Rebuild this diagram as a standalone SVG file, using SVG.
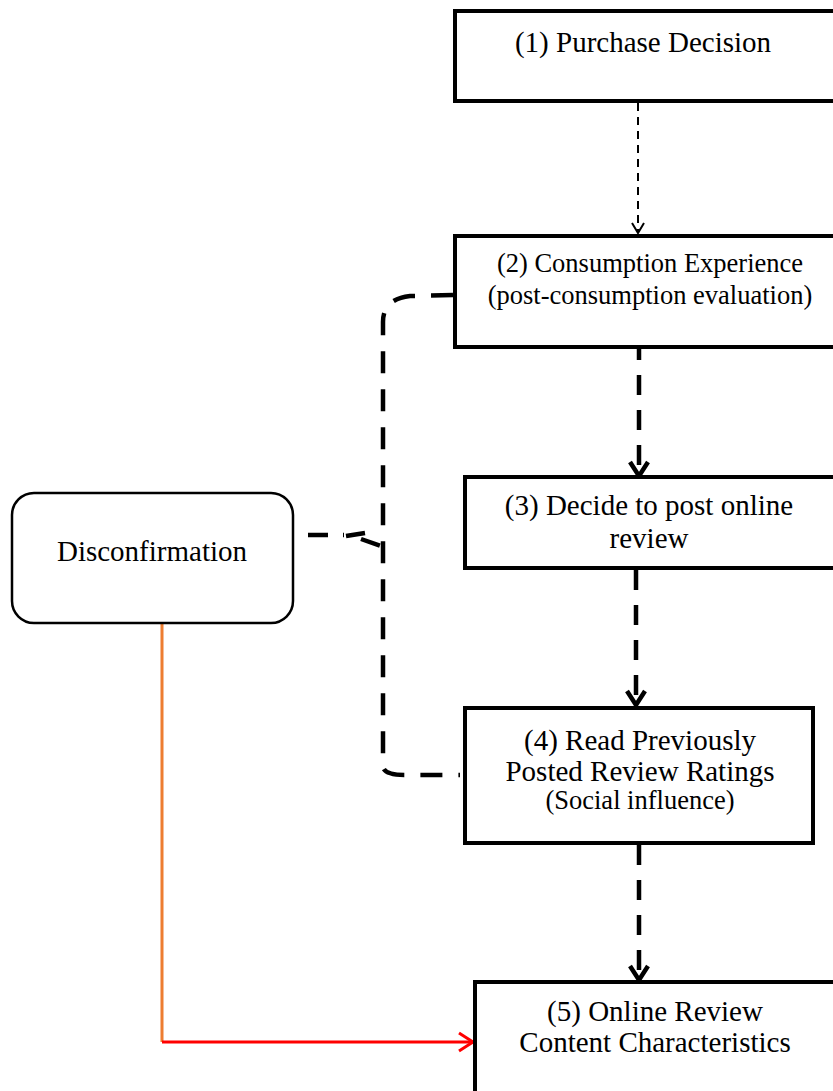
<svg xmlns="http://www.w3.org/2000/svg" width="833" height="1091" viewBox="0 0 833 1091">
  <style>
    .box { fill: #fff; stroke: #000; stroke-width: 4; }
    .round { fill: #fff; stroke: #000; stroke-width: 2.5; }
    .t { font-family: "Liberation Serif", "Times New Roman", serif; fill: #000; text-anchor: middle; font-size: 29px; }
    .s { font-size: 26.5px; }
    .thin { fill: none; stroke: #000; stroke-width: 2; stroke-dasharray: 8 6; }
    .thick { fill: none; stroke: #000; stroke-width: 4.5; stroke-dasharray: 20 15; }
  </style>
  <defs>
    <marker id="openThin" markerWidth="14" markerHeight="14" refX="12" refY="7" orient="auto" markerUnits="userSpaceOnUse">
      <path d="M2,1 L12,7 L2,13" fill="none" stroke="#000" stroke-width="2"/>
    </marker>
    <marker id="openThick" markerWidth="20" markerHeight="22" refX="17" refY="11" orient="auto" markerUnits="userSpaceOnUse">
      <path d="M3,2 L17,11 L3,20" fill="none" stroke="#000" stroke-width="4.5"/>
    </marker>
    <marker id="openRed" markerWidth="20" markerHeight="22" refX="17" refY="11" orient="auto" markerUnits="userSpaceOnUse">
      <path d="M3,2 L17,11 L3,20" fill="none" stroke="#ff0000" stroke-width="3"/>
    </marker>
  </defs>

  <g id="connectors">
    <path class="thin" d="M638,103 L638,233" marker-end="url(#openThin)"/>
    <path class="thick" d="M639,340 L639,476" marker-end="url(#openThick)"/>
    <path class="thick" d="M636,570 L636,705" marker-end="url(#openThick)"/>
    <path class="thick" d="M639,845 L639,980" marker-end="url(#openThick)"/>
    <!-- bracket linking stages 2 and 4 with disconfirmation -->
    <path class="thick" d="M453,295 L410,296 Q383,299 383,322 L383,766 Q383,775 405,775 L460,775" style="stroke-dasharray:22 16"/>
    <path class="thick" d="M308,535 L344,535 M346,536 L365,533 M361,539 L381,546"/>
    <!-- disconfirmation to content characteristics -->
    <path d="M162,623 L162,1042" fill="none" stroke="#ed7d31" stroke-width="3"/>
    <path d="M162,1042 L473,1042" fill="none" stroke="#ff0000" stroke-width="3" marker-end="url(#openRed)"/>
  </g>

  <g id="node1">
    <rect class="box" x="455" y="11" width="390" height="90"/>
    <text class="t" x="643" y="52">(1) Purchase Decision</text>
  </g>
  <g id="node2">
    <rect class="box" x="455" y="236" width="390" height="111"/>
    <text class="t s" x="650" y="272">(2) Consumption Experience</text>
    <text class="t s" x="650" y="304">(post-consumption evaluation)</text>
  </g>
  <g id="node3">
    <rect class="box" x="465" y="477" width="380" height="91"/>
    <text class="t" x="649" y="515">(3) Decide to post online</text>
    <text class="t" x="649" y="548">review</text>
  </g>
  <g id="node4">
    <rect class="box" x="465" y="708" width="348" height="135"/>
    <text class="t" x="640" y="750">(4) Read Previously</text>
    <text class="t" x="640" y="781">Posted Review Ratings</text>
    <text class="t s" x="640" y="809">(Social influence)</text>
  </g>
  <g id="node5">
    <rect class="box" x="475" y="982" width="370" height="120"/>
    <text class="t" x="655" y="1021">(5) Online Review</text>
    <text class="t" x="655" y="1052">Content Characteristics</text>
  </g>
  <g id="disconfirmation">
    <rect class="round" x="12" y="493" width="281" height="130" rx="22" ry="22"/>
    <text class="t" x="152" y="561">Disconfirmation</text>
  </g>
</svg>
